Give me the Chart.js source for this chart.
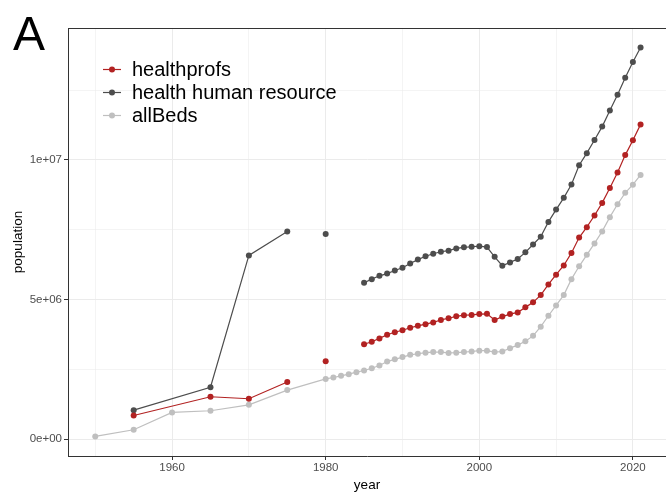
<!DOCTYPE html>
<html><head><meta charset="utf-8">
<script src="https://cdn.jsdelivr.net/npm/chart.js@4"></script>
<style>
html,body{margin:0;padding:0;background:#fff;}
#wrap{position:relative;width:666px;height:494px;font-family:"Liberation Sans",Arial,sans-serif;overflow:hidden;}
#c{position:absolute;left:0;top:0;}
#panelTag{position:absolute;left:13px;top:9.5px;font-size:48px;line-height:48px;color:#000;}
#legend{position:absolute;left:103px;top:57.5px;font-size:20px;color:#000;}
.row{height:23px;line-height:23px;display:flex;align-items:center;white-space:nowrap;}
.row svg{width:18px;height:23px;margin-right:11px;flex:none;}
</style></head>
<body>
<div id="wrap">
<canvas id="c" width="666" height="494"></canvas>
<div id="panelTag">A</div>
<div id="legend"></div>
</div>
<script>
// ---- data (population) ----
const seriesNames = ['healthprofs', 'health human resource', 'allBeds'];
const seriesColors = ['#B22222', '#4D4D4D', '#BFBFBF'];

const healthprofsYears = [1955,1965,1970,1975,1977,1980,1982,
  1985,1986,1987,1988,1989,1990,1991,1992,1993,1994,1995,1996,1997,1998,1999,
  2000,2001,2002,2003,2004,2005,2006,2007,2008,2009,2010,2011,2012,2013,2014,2015,2016,2017,2018,2019,2020,2021];
const healthprofs = [0.85e6,1.52e6,1.45e6,2.05e6,null,2.79e6,null,
  3.40e6,3.49e6,3.61e6,3.74e6,3.83e6,3.90e6,3.99e6,4.06e6,4.12e6,4.18e6,4.27e6,4.33e6,4.40e6,4.44e6,4.45e6,
  4.48e6,4.49e6,4.27e6,4.39e6,4.48e6,4.54e6,4.72e6,4.90e6,5.16e6,5.54e6,5.89e6,6.22e6,6.67e6,7.22e6,7.59e6,8.01e6,8.46e6,8.99e6,9.55e6,10.17e6,10.70e6,11.27e6];

const hhrYears = [1955,1965,1970,1975,1977,1980,1982,
  1985,1986,1987,1988,1989,1990,1991,1992,1993,1994,1995,1996,1997,1998,1999,
  2000,2001,2002,2003,2004,2005,2006,2007,2008,2009,2010,2011,2012,2013,2014,2015,2016,2017,2018,2019,2020,2021];
const hhr = [1.04e6,1.86e6,6.58e6,7.44e6,null,7.35e6,null,
  5.60e6,5.73e6,5.85e6,5.93e6,6.04e6,6.14e6,6.29e6,6.43e6,6.55e6,6.64e6,6.71e6,6.75e6,6.83e6,6.87e6,6.89e6,
  6.91e6,6.88e6,6.53e6,6.21e6,6.33e6,6.45e6,6.69e6,6.97e6,7.25e6,7.78e6,8.22e6,8.64e6,9.12e6,9.81e6,10.24e6,10.71e6,11.19e6,11.77e6,12.33e6,12.94e6,13.50e6,14.02e6];

const allBedsYears = [1950,1955,1960,1965,1970,1975,
  1980,1981,1982,1983,1984,1985,1986,1987,1988,1989,1990,1991,1992,1993,1994,1995,1996,1997,1998,1999,
  2000,2001,2002,2003,2004,2005,2006,2007,2008,2009,2010,2011,2012,2013,2014,2015,2016,2017,2018,2019,2020,2021];
const allBeds = [0.10e6,0.34e6,0.96e6,1.02e6,1.23e6,1.76e6,
  2.16e6,2.21e6,2.27e6,2.33e6,2.40e6,2.46e6,2.54e6,2.64e6,2.78e6,2.86e6,2.94e6,3.02e6,3.06e6,3.10e6,3.12e6,3.12e6,3.09e6,3.10e6,3.12e6,3.14e6,
  3.17e6,3.17e6,3.12e6,3.14e6,3.26e6,3.37e6,3.51e6,3.70e6,4.03e6,4.42e6,4.79e6,5.16e6,5.73e6,6.19e6,6.60e6,7.01e6,7.44e6,7.95e6,8.41e6,8.82e6,9.11e6,9.46e6];

// ---- axes ----
const xGridTicks = [1950,1960,1970,1980,1990,2000,2010,2020];
const xMajorTicks = [1960,1980,2000,2020];
const yGridTicks = [0,2.5e6,5e6,7.5e6,1e7,1.25e7];
const yMajorTicks = [0,5e6,1e7];
const yTickLabels = ['0e+00','5e+06','1e+07'];
const xTitle = 'year';
const yTitle = 'population';

const pairs = (xs, ys) => xs.map((x, i) => ({x: x, y: ys[i]}));
const seriesData = [pairs(healthprofsYears, healthprofs), pairs(hhrYears, hhr), pairs(allBedsYears, allBeds)];

// legend (HTML text)
const legendEl = document.getElementById('legend');
seriesNames.forEach((n, i) => {
  const row = document.createElement('div');
  row.className = 'row';
  row.innerHTML = '<svg viewBox="0 0 18 23"><line x1="0" y1="11.5" x2="18" y2="11.5" stroke="' + seriesColors[i] +
    '" stroke-width="1.2"/><circle cx="9" cy="11.5" r="3" fill="' + seriesColors[i] + '"/></svg>';
  const sp = document.createElement('span');
  sp.textContent = n;
  row.appendChild(sp);
  legendEl.appendChild(row);
});

const FONT = '"Liberation Sans", Arial, sans-serif';
const isMajorX = v => xMajorTicks.includes(v);
const isMajorY = v => yMajorTicks.includes(v);

const topBorder = {
  id: 'topBorder',
  afterDraw(chart) {
    const a = chart.chartArea, ctx = chart.ctx;
    ctx.save();
    ctx.strokeStyle = '#333333';
    ctx.lineWidth = 1;
    ctx.beginPath();
    ctx.moveTo(a.left, a.top + 0.5);
    ctx.lineTo(a.right, a.top + 0.5);
    ctx.stroke();
    ctx.restore();
  }
};

new Chart(document.getElementById('c'), {
  type: 'line',
  data: {
    datasets: seriesNames.map((n, i) => ({
      label: n,
      data: seriesData[i],
      borderColor: seriesColors[i],
      backgroundColor: seriesColors[i],
      pointBackgroundColor: seriesColors[i],
      pointBorderWidth: 0,
      pointRadius: 3,
      pointHoverRadius: 3,
      borderWidth: 1.2,
      spanGaps: false,
      tension: 0,
      order: i
    }))
  },
  options: {
    responsive: false,
    devicePixelRatio: 1,
    animation: false,
    layout: {autoPadding: false, padding: {top: 28, right: 0, left: 0, bottom: 0}},
    plugins: {legend: {display: false}, tooltip: {enabled: false}},
    scales: {
      x: {
        type: 'linear',
        min: 1946.45,
        max: 2024.31,
        afterBuildTicks: s => { s.ticks = xGridTicks.map(v => ({value: v})); },
        afterFit: s => { s.height = 38; },
        ticks: {
          autoSkip: false,
          maxRotation: 0,
          padding: 1,
          color: '#4D4D4D',
          font: {family: FONT, size: 11.5},
          callback: v => isMajorX(v) ? String(v) : ''
        },
        grid: {
          color: '#EBEBEB',
          lineWidth: c => (c.tick && isMajorX(c.tick.value)) ? 1 : 0.55,
          tickColor: c => (c.tick && isMajorX(c.tick.value)) ? '#333333' : 'rgba(0,0,0,0)',
          tickLength: 4,
          tickWidth: 1
        },
        border: {display: true, color: '#333333', width: 1},
        title: {display: true, text: xTitle, color: '#000', font: {family: FONT, size: 13.5}, padding: {top: 0, bottom: 1}}
      },
      y: {
        type: 'linear',
        min: -0.6e6,
        max: 14.72e6,
        afterBuildTicks: s => { s.ticks = yGridTicks.map(v => ({value: v})); },
        afterFit: s => { s.width = 68; },
        ticks: {
          autoSkip: false,
          padding: 2,
          color: '#4D4D4D',
          font: {family: FONT, size: 11.5},
          callback: v => { const k = yMajorTicks.indexOf(v); return k >= 0 ? yTickLabels[k] : ''; }
        },
        grid: {
          color: '#EBEBEB',
          lineWidth: c => (c.tick && isMajorY(c.tick.value)) ? 1 : 0.55,
          tickColor: c => (c.tick && isMajorY(c.tick.value)) ? '#333333' : 'rgba(0,0,0,0)',
          tickLength: 4,
          tickWidth: 1
        },
        border: {display: true, color: '#333333', width: 1},
        title: {display: true, text: yTitle, color: '#000', font: {family: FONT, size: 13.5}, padding: {top: 10, bottom: 0}}
      }
    }
  },
  plugins: [topBorder]
});
</script>
</body></html>
